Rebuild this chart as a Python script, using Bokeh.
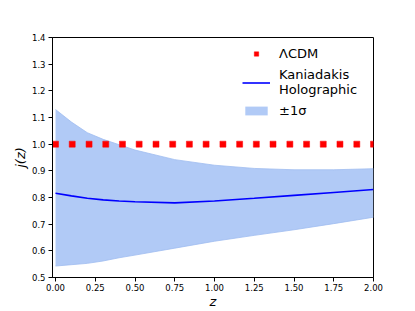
from bokeh.plotting import figure
from bokeh.models import (Range1d, Legend, LegendItem, FixedTicker,
                          NumeralTickFormatter, ColumnDataSource)
from bokeh.embed import file_html
from bokeh.resources import INLINE

# ---- data ----
z_band = [0.0, 0.1, 0.2, 0.3, 0.4, 0.5, 0.75, 1.0, 1.25, 1.5, 1.75, 2.0]
j_upper = [1.130, 1.083, 1.043, 1.018, 0.998, 0.978, 0.942, 0.921, 0.909, 0.904, 0.904, 0.908]
j_mean = [0.816, 0.806, 0.797, 0.791, 0.787, 0.784, 0.780, 0.787, 0.797, 0.808, 0.819, 0.830]
j_lower = [0.543, 0.548, 0.553, 0.562, 0.574, 0.584, 0.610, 0.636, 0.658, 0.679, 0.702, 0.726]

z_lcdm = [0.0, 0.105, 0.211, 0.316, 0.421, 0.526, 0.632, 0.737, 0.842, 0.947,
          1.053, 1.158, 1.263, 1.368, 1.474, 1.579, 1.684, 1.789, 1.895, 2.0]
j_lcdm = [1.0] * 20

x_ticks = [0.0, 0.25, 0.5, 0.75, 1.0, 1.25, 1.5, 1.75, 2.0]
y_ticks = [0.5, 0.6, 0.7, 0.8, 0.9, 1.0, 1.1, 1.2, 1.3, 1.4]

FONT = "DejaVu Sans"

p = figure(width=415, height=311, output_backend="svg", toolbar_location=None,
           x_range=Range1d(-0.019, 2.0), y_range=Range1d(0.5, 1.4),
           min_border_left=52, min_border_top=37, min_border_right=42,
           min_border_bottom=34)

band_src = ColumnDataSource(dict(z=z_band, up=j_upper, lo=j_lower, mid=j_mean))
band = p.varea(x="z", y1="lo", y2="up", source=band_src,
               fill_color="#b1caf6", fill_alpha=1.0)
p.line(x="z", y="up", source=band_src, line_color="#9fbcf0", line_width=0.8)
p.line(x="z", y="lo", source=band_src, line_color="#9fbcf0", line_width=0.8)
mean = p.line(x="z", y="mid", source=band_src, line_color="#0000ff", line_width=1.6)
sq = p.scatter(x=z_lcdm, y=j_lcdm, marker="square", size=6,
               fill_color="#ff0000", line_color="#ff0000", line_width=0.5)

legend = Legend(items=[
    LegendItem(label="ΛCDM", renderers=[sq]),
    LegendItem(label="Kaniadakis\nHolographic", renderers=[mean]),
    LegendItem(label="±1σ", renderers=[band]),
], location=(190, 159), margin=0, padding=5, spacing=6,
    glyph_width=28, glyph_height=11, label_standoff=9,
    label_text_font=FONT, label_text_font_size="13px",
    label_text_color="black",
    border_line_color=None, background_fill_alpha=0.0)
p.add_layout(legend)

p.grid.visible = False
p.outline_line_color = "black"
p.outline_line_width = 1

for ax in (p.xaxis[0], p.yaxis[0]):
    ax.axis_line_color = "black"
    ax.major_tick_line_color = "black"
    ax.major_tick_out = 4
    ax.major_tick_in = 0
    ax.minor_tick_line_color = None
    ax.major_label_text_font = FONT
    ax.major_label_text_font_size = "8.5px"
    ax.major_label_text_color = "black"
    ax.axis_label_text_font = FONT
    ax.axis_label_text_font_size = "13px"
    ax.axis_label_text_font_style = "italic"
    ax.axis_label_text_color = "black"

p.xaxis.ticker = FixedTicker(ticks=x_ticks)
p.xaxis.formatter = NumeralTickFormatter(format="0.00")
p.xaxis.axis_label = "z"
p.xaxis.axis_label_standoff = 0
p.xaxis.major_label_standoff = 2
p.yaxis.ticker = FixedTicker(ticks=y_ticks)
p.yaxis.formatter = NumeralTickFormatter(format="0.0")
p.yaxis.axis_label = "j(z)"
p.yaxis.axis_label_standoff = 1
p.yaxis.major_label_standoff = 3

open("out.html", "w").write(file_html(p, INLINE))
